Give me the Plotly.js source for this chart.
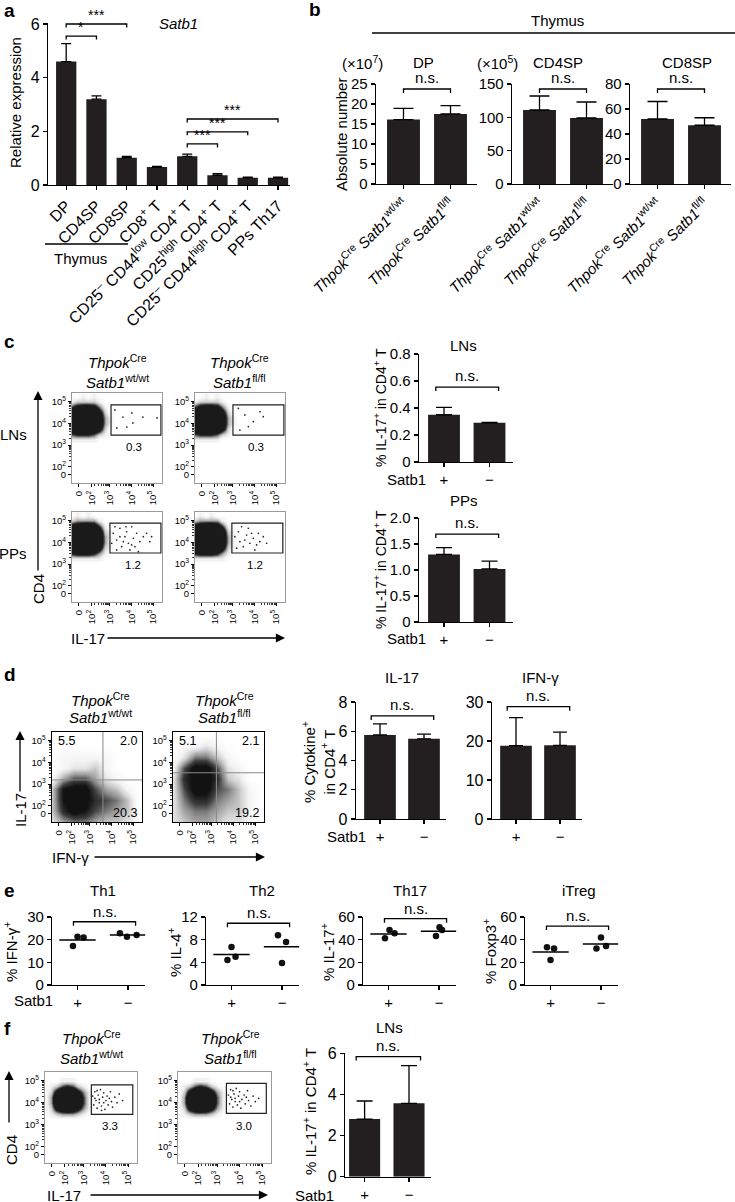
<!DOCTYPE html>
<html><head><meta charset="utf-8">
<script src="https://cdn.plot.ly/plotly-3.0.1.min.js"></script>
<style>html,body{margin:0;padding:0;background:#fff}</style>
</head><body><div id="chart" style="width:735px;height:1202px"></div>
<script>
// ================= DATA =================
// panel a
const aLabels = ['DP','CD4SP','CD8SP','CD8<sup>+</sup> T','CD25<sup>–</sup> CD44<sup>low</sup> CD4<sup>+</sup> T','CD25<sup>high</sup> CD4<sup>+</sup> T','CD25<sup>–</sup> CD44<sup>high</sup> CD4<sup>+</sup> T','PPs Th17'];
const aMeans = [4.6, 3.2, 1.02, 0.67, 1.07, 0.36, 0.27, 0.27];
const aSEM = [0.67, 0.12, 0.05, 0.02, 0.08, 0.06, 0.02, 0.02];
const aSigPairs = [[0,2],[0,1],[4,7],[4,6],[4,5]];
const aSigLevels = [6.0, 5.55, 2.46, 1.98, 1.53];
const aSigLabels = ['***','*','***','***','***'];
const aTicks = [0,2,4,6];
// panel b
const bGenotypes = ['<i>Thpok</i><sup>Cre</sup> <i>Satb1</i><sup>wt/wt</sup>','<i>Thpok</i><sup>Cre</sup> <i>Satb1</i><sup>fl/fl</sup>'];
const bDP = [16.1, 17.5], bDPerr = [2.8, 2.1];
const bCD4SP = [111, 99], bCD4SPerr = [21, 24];
const bCD8SP = [52, 47], bCD8SPerr = [14, 6];
const bTicksDP = [0,5,10,15,20,25], bTicksCD4 = [0,50,100,150], bTicksCD8 = [0,20,40,60,80];
const bBracketLevels = [23.75, 142.5, 76];
// panel c
const satb1Groups = ['+','−'];
const cLN = [0.35, 0.29], cLNerr = [0.055, 0.004];
const cPP = [1.30, 1.02], cPPerr = [0.13, 0.15];
const cLNticks = [0,0.2,0.4,0.6,0.8], cLNtickText = ['0','0.2','0.4','0.6','0.8'];
const cPPticks = [0,0.5,1.0,1.5,2.0], cPPtickText = ['0','0.5','1.0','1.5','2.0'];
const cBracketLevels = [0.555, 1.69];
// flow axes (display units of biexponential scale)
const flowTickValsY = [1.62, 2, 3, 4, 5];
const flowTickValsX = [1.55, 2.15, 3, 4, 5];
const flowTickText = ['0','10<sup>2</sup>','10<sup>3</sup>','10<sup>4</sup>','10<sup>5</sup>'];
// panel c flow densities
const cGridX = [1.25,1.5,1.75,2.0,2.25,2.5,2.75,3.0,3.25];
const cGridY = [3.25,3.5,3.75,4.0,4.25,4.5,4.75,5.0,5.25];
const cLNdensity = [
 [1,1,1,1,1,0,0,0,0],
 [4,5,5,5,4,2,1,0,0],
 [9,9,9,9,9,7,2,0,0],
 [9,9,9,9,9,8,3,1,0],
 [9,9,9,9,9,8,3,1,0],
 [9,9,9,9,9,7,2,0,0],
 [5,7,8,8,7,4,1,0,0],
 [1,2,2,2,2,1,0,0,0],
 [0,0,1,0,1,0,0,0,0]];
const cPPdensity = [
 [1,1,1,1,1,1,0,0,0],
 [5,6,6,6,5,3,1,0,0],
 [9,9,9,9,9,7,2,1,0],
 [9,9,9,9,9,8,3,1,0],
 [9,9,9,9,9,8,3,1,0],
 [9,9,9,9,9,8,2,1,0],
 [7,8,9,9,8,5,1,0,0],
 [2,3,3,3,3,1,0,0,0],
 [0,1,0,1,0,0,0,0,0]];
const cLNgates = [[3.05,5.35,3.46,4.85],[3.0,5.35,3.46,4.85]];
const cPPgates = [[3.0,5.35,3.51,4.89],[2.95,5.3,3.51,4.89]];
const cLNpct = ['0.3','0.3'], cPPpct = ['1.2','1.2'];
const cLN1dots = [[3.23,4.62],[3.6,4.29],[4.01,4.48],[4.06,4.02],[4.52,4.29],[5.17,4.25],[3.32,3.79],[3.78,3.83]];
const cLN2dots = [[3.25,4.69],[3.55,4.39],[3.94,4.08],[4.4,4.31],[3.71,3.85],[3.32,3.69],[4.25,4.54]];
const cPP1dots = [[3.15,4.42],[3.31,4.11],[3.46,4.65],[3.54,3.8],[3.69,4.26],[3.77,4.49],[3.85,3.96],[3.92,3.65],[4.0,4.72],[4.08,4.19],[4.15,3.8],[4.23,4.42],[3.31,3.65],[3.23,4.72],[3.62,4.03],[4.38,4.03],[4.54,4.26],[4.69,4.42],[4.84,4.03],[4.31,3.57],[3.46,4.26],[3.08,3.96],[4.0,3.88],[3.74,4.72],[4.92,4.26]];
const cPP2dots = [[3.09,4.26],[3.25,4.49],[3.32,4.03],[3.48,3.8],[3.63,4.34],[3.71,4.65],[3.78,3.96],[3.94,4.19],[4.01,3.65],[4.17,4.42],[4.24,4.03],[4.4,4.26],[3.17,3.73],[3.55,4.11],[3.86,4.42],[4.55,3.96],[3.4,4.72],[4.09,3.88]];
// panel d
const dIL17 = [5.75, 5.48], dIL17err = [0.75, 0.32];
const dIFN = [18.8, 18.9], dIFNerr = [7.2, 3.4];
const dTicksIL17 = [0,2,4,6,8], dTicksIFN = [0,10,20,30];
const dBracketLevels = [7.05, 28.8];
const dGridX = [1.25,1.75,2.25,2.75,3.25,3.75,4.25,4.75,5.25];
const dGridY = [1.25,1.75,2.25,2.75,3.25,3.75,4.25,4.75,5.25];
const dWTdensity = [
 [2,4,5,5,4,3,3,2,0],
 [3,7,9,8,6,5,4,3,0],
 [3,8,9,9,7,6,5,3,0],
 [3,8,9,9,6,4,3,1,0],
 [1,4,6,6,4,2,1,0,0],
 [0,1,2,2,3,1,0,0,0],
 [0,1,1,1,1,1,0,0,0],
 [0,0,0,0,0,0,0,0,0],
 [0,0,0,0,0,0,0,0,0]];
const dFLdensity = [
 [2,3,4,4,3,2,2,1,0],
 [2,4,5,5,4,3,3,1,0],
 [2,5,7,7,5,4,3,1,0],
 [2,6,9,9,6,5,3,1,0],
 [2,7,9,9,7,3,2,0,0],
 [1,6,9,9,6,2,1,0,0],
 [0,2,5,5,3,1,0,0,0],
 [0,1,1,2,1,0,0,0,0],
 [0,0,0,0,0,0,0,0,0]];
const dQuadX = [3.6, 3.23], dQuadY = [3.19, 3.52];
const dQuadPct = [['5.5','2.0','20.3'],['5.1','2.1','19.2']];
// panel e
const eTitles = ['Th1','Th2','Th17','iTreg'];
const eYLabels = ['% IFN-γ<sup>+</sup>','% IL-4<sup>+</sup>','% IL-17<sup>+</sup>','% Foxp3<sup>+</sup>'];
const eTicks = [[0,10,20,30],[0,4,8,12],[0,20,40,60],[0,20,40,60]];
const ePlus = [[21.3,21.0,17.2],[6.7,4.4,5.0],[48.5,45.6,41.2],[33.2,32.3,22.0]];
const eMinus = [[22.8,21.3,22.1],[8.8,7.6,3.9],[50.9,43.2,48.5],[42.0,32.3,34.4]];
const eBracketLevels = [27.9, 10.9, 58.5, 52];
// panel f
const fLN = [2.8, 3.57], fLNerr = [0.88, 1.83];
const fTicks = [0,2,4,6];
const fBracketLevel = 5.84;
const fGridX = [1.25,1.5,1.75,2.0,2.25,2.5,2.75,3.0,3.25,3.5];
const fGridY = [3.25,3.5,3.75,4.0,4.25,4.5,4.75,5.0];
const fDensity = [
 [0,0,0,0,0,0,0,0,0,0],
 [0,1,2,3,3,3,2,1,0,0],
 [0,2,6,8,9,8,6,3,1,0],
 [0,3,8,9,9,9,8,4,1,0],
 [0,3,8,9,9,9,8,4,1,0],
 [0,2,6,9,9,9,6,3,1,0],
 [0,1,2,4,5,4,2,1,0,0],
 [0,0,0,1,1,1,0,0,0,0]];
const fGates = [[3.34,5.21,3.47,4.81],[3.41,5.19,3.51,4.88]];
const fPct = ['3.3','3.0'];
const f1dots = [[3.4,4.3],[3.45,3.9],[3.5,4.5],[3.55,4.1],[3.6,3.75],[3.65,4.35],[3.7,4.0],[3.75,4.6],[3.8,3.85],[3.85,4.25],[3.9,4.45],[3.95,3.7],[4.0,4.1],[4.05,4.3],[4.1,3.9],[4.2,4.5],[4.25,4.05],[4.3,3.8],[4.4,4.25],[4.5,4.0],[4.6,4.4],[3.5,4.2],[3.7,4.15],[3.9,4.0],[4.15,4.2],[3.6,4.55],[3.8,3.65],[4.75,4.1]];
const f2dots = [[3.5,4.35],[3.55,3.95],[3.6,4.6],[3.65,4.15],[3.7,3.8],[3.75,4.4],[3.8,4.05],[3.85,4.65],[3.9,3.9],[3.95,4.3],[4.0,4.5],[4.05,3.75],[4.1,4.15],[4.2,4.35],[4.25,3.95],[4.35,4.55],[4.4,4.1],[4.5,3.85],[4.6,4.3],[4.7,4.05],[3.6,4.25],[3.8,4.2],[4.0,4.05],[4.3,4.25],[3.7,4.55],[4.85,4.2]];

// ================= LAYOUT HELPERS =================
const W = 735, H = 1202;
const FONT = 'Liberation Sans, Arial, Helvetica, sans-serif';
const NARROW = 'Liberation Sans Narrow, Liberation Sans, Arial, sans-serif';
const BAR = '#231f20';
const traces = [];
const layout = {width:W, height:H, margin:{l:0,r:0,t:0,b:0}, paper_bgcolor:'#fff', plot_bgcolor:'rgba(0,0,0,0)',
  showlegend:false, font:{family:FONT, size:14, color:'#000'}, annotations:[], shapes:[]};
let nAx = 0;
function newAxes(xcfg, ycfg){
  nAx++; const s = nAx===1 ? '' : String(nAx);
  const xa='x'+s, ya='y'+s;
  layout['xaxis'+s] = Object.assign({anchor:ya, showgrid:false, zeroline:false, fixedrange:true}, xcfg);
  layout['yaxis'+s] = Object.assign({anchor:xa, showgrid:false, zeroline:false, fixedrange:true}, ycfg);
  return {xa, ya};
}
function xDom(pA,vA,pB,vB,r){const k=(pB-pA)/(vB-vA);return [(pA+(r[0]-vA)*k)/W,(pA+(r[1]-vA)*k)/W];}
function yDom(pA,vA,pB,vB,r){const k=(pB-pA)/(vB-vA);return [1-(pA+(r[0]-vA)*k)/H,1-(pA+(r[1]-vA)*k)/H];}
const axLine = {showline:true, linecolor:'#000', linewidth:1.3, ticks:'outside', ticklen:4, tickwidth:1.3, tickcolor:'#000', tickmode:'array'};
function ann(px,py,text,o){layout.annotations.push(Object.assign({xref:'paper',yref:'paper',x:px/W,y:1-py/H,text,showarrow:false,xanchor:'center',yanchor:'middle',font:{family:FONT,size:14,color:'#000'}},o||{}));}
function pline(px0,py0,px1,py1,w){layout.shapes.push({type:'line',xref:'paper',yref:'paper',x0:px0/W,y0:1-py0/H,x1:px1/W,y1:1-py1/H,line:{color:'#000',width:w||1.3}});}
function arrow(hx,hy,tx,ty){layout.annotations.push({xref:'paper',yref:'paper',x:hx/W,y:1-hy/H,ax:tx-hx,ay:ty-hy,text:'',showarrow:true,arrowhead:2,arrowsize:1.4,arrowwidth:1.3,arrowcolor:'#000',standoff:0});}
function fnt(size,fam){return {family:fam||FONT,size,color:'#000'};}

function barPanel(c){
  const n = c.values.length, idx=[...Array(n).keys()];
  const ax = newAxes(
    Object.assign({domain:xDom(c.c0,0,c.c1,n-1,c.xRange), range:c.xRange, tickvals:idx, ticktext:c.labels, tickangle:c.angle||0, tickfont:c.xfont}, axLine),
    Object.assign({domain:yDom(c.y0,0,c.yT,c.yTopVal,c.yRange), range:c.yRange, tickvals:c.yTicks, ticktext:c.yText||c.yTicks.map(String), tickfont:c.yfont}, axLine));
  traces.push({type:'bar', x:idx, y:c.values, width:c.barW, xaxis:ax.xa, yaxis:ax.ya, hoverinfo:'skip',
    marker:{color:BAR, line:{width:0}},
    error_y:{type:'data', symmetric:false, array:c.errors, arrayminus:c.errors.map(()=>0), color:'#000', thickness:1.3, width:c.capW}});
  ax.kY = (c.y0-c.yT)/c.yTopVal;
  return ax;
}
function bracket(ax,x0,x1,y,drop,label,font,shift){
  const d = drop/ax.kY;
  layout.shapes.push({type:'path', xref:ax.xa, yref:ax.ya, path:`M${x0},${y-d} L${x0},${y} L${x1},${y} L${x1},${y-d}`, line:{color:'#000',width:1.3}});
  layout.annotations.push({xref:ax.xa, yref:ax.ya, x:(x0+x1)/2, y:y, text:label, showarrow:false, xanchor:'center', yanchor:'bottom', yshift:shift||0, font});
}
const FLOW_RANGE = [1.25, 5.4];
const minorVals = []; [2,3,4].forEach(d=>{for(let m=2;m<10;m++) minorVals.push(d+Math.log10(m));});
function flowAxis(color,width,letter){
  return {showline:true, mirror:true, linecolor:color, linewidth:width, ticks:'outside', ticklen:3, tickwidth:1, tickcolor:'#000',
    tickmode:'array', tickvals: letter==='x'?flowTickValsX:flowTickValsY, ticktext:flowTickText, tickfont:fnt(9.5), tickangle: letter==='x'?-90:0,
    minor:{tickmode:'array', tickvals:minorVals, ticks:'outside', ticklen:2, tickwidth:0.8, tickcolor:'#000'}};
}
const csFlow = [[0,'#ffffff'],[0.12,'#f0f0f0'],[0.3,'#b5b5b5'],[0.45,'#505050'],[0.56,'#1a1a1a'],[1,'#1a1a1a']];
const csD = [[0,'#ffffff'],[0.15,'#f3f3f3'],[0.3,'#d2d2d2'],[0.5,'#909090'],[0.7,'#3c3c3c'],[0.9,'#121212'],[1,'#121212']];
function flowPanel(box,o){
  const ax = newAxes(Object.assign({domain:[box[0]/W,box[1]/W], range:FLOW_RANGE}, flowAxis(o.frame,o.fw,'x')),
                     Object.assign({domain:[1-box[3]/H,1-box[2]/H], range:FLOW_RANGE}, flowAxis(o.frame,o.fw,'y')));
  traces.push({type:'heatmap', x:o.gx, y:o.gy, z:o.z, zmin:0, zmax:9, colorscale:o.cs, zsmooth:'best', showscale:false, xaxis:ax.xa, yaxis:ax.ya, hoverinfo:'skip'});
  if(o.dots) traces.push({type:'scatter', mode:'markers', x:o.dots.map(d=>d[0]), y:o.dots.map(d=>d[1]), marker:{size:1.7, color:'#222'}, xaxis:ax.xa, yaxis:ax.ya, hoverinfo:'skip'});
  if(o.gate){
    const g=o.gate;
    layout.shapes.push({type:'rect', xref:ax.xa, yref:ax.ya, x0:g[0], x1:g[1], y0:g[2], y1:g[3], line:{color:'#222',width:1.2}});
    layout.annotations.push({xref:ax.xa, yref:ax.ya, x:(g[0]+g[1])/2-0.1, y:g[2]-0.55, text:o.pct, showarrow:false, font:fnt(11.5)});
  }
  return ax;
}
function header(cx,y1,y2,geno){
  ann(cx,y1,'<i>Thpok</i><sup>Cre</sup>',{font:fnt(15)});
  ann(cx,y2,'<i>Satb1</i><sup>'+geno+'</sup>',{font:fnt(15)});
}

// ================= PANEL a =================
ann(2,11,'<b>a</b>',{xanchor:'left',font:fnt(19)});
const axA = barPanel({values:aMeans, errors:aSEM, labels:aLabels, angle:-45, c0:66.2, c1:278, xRange:[-0.6,7.4],
  y0:185, yT:24, yTopVal:6, yRange:[0,6.05], yTicks:aTicks, barW:0.67, capW:5, xfont:fnt(16), yfont:fnt(16)});
aSigPairs.forEach((p,i)=>bracket(axA,p[0],p[1],aSigLevels[i],3.5,aSigLabels[i],fnt(14),-1));
ann(178,24,'<i>Satb1</i>',{font:fnt(15)});
ann(15,103,'Relative expression',{textangle:-90,font:fnt(15)});
pline(45,244,128,244,1.3);
ann(80,258,'Thymus',{font:fnt(15)});

// ================= PANEL b =================
ann(307,10,'<b>b</b>',{xanchor:'left',font:fnt(19)});
ann(557,21,'Thymus',{font:fnt(15)});
pline(372,33,735,33,1.3);
const bSets = [[bDP,bDPerr,bTicksDP,376],[bCD4SP,bCD4SPerr,bTicksCD4,512],[bCD8SP,bCD8SPerr,bTicksCD8,630]];
bSets.forEach((s,i)=>{
  const top = s[2][s[2].length-1];
  const ax = barPanel({values:s[0], errors:s[1], labels:bGenotypes, angle:-45, c0:s[3]+27.5, c1:s[3]+74.5, xRange:[-0.585,1.56],
    y0:184, yT:84, yTopVal:top, yRange:[0,top], yTicks:s[2], barW:0.7, capW:10, xfont:fnt(15), yfont:fnt(15)});
  bracket(ax,0,1,bBracketLevels[i],4,'n.s.',fnt(15),1);
});
ann(362,63,'(×10<sup>7</sup>)',{font:fnt(15)});
ann(423,63,'DP',{font:fnt(15)});
ann(497,63,'(×10<sup>5</sup>)',{font:fnt(15)});
ann(558,63,'CD4SP',{font:fnt(15)});
ann(687,63,'CD8SP',{font:fnt(15)});
ann(341,135,'Absolute number',{textangle:-90,font:fnt(15)});

// ================= PANEL c =================
ann(2,342,'<b>c</b>',{xanchor:'left',font:fnt(19)});
header(117,362,382,'wt/wt'); header(240,362,382,'fl/fl');
const grayFrame = {frame:'#9a9a9a', fw:1.1, cs:csFlow};
flowPanel([72,162,393,483], Object.assign({gx:cGridX, gy:cGridY, z:cLNdensity, gate:cLNgates[0], pct:cLNpct[0], dots:cLN1dots}, grayFrame));
flowPanel([195,285,393,483], Object.assign({gx:cGridX, gy:cGridY, z:cLNdensity, gate:cLNgates[1], pct:cLNpct[1], dots:cLN2dots}, grayFrame));
flowPanel([72,162,512,602], Object.assign({gx:cGridX, gy:cGridY, z:cPPdensity, gate:cPPgates[0], pct:cPPpct[0], dots:cPP1dots}, grayFrame));
flowPanel([195,285,512,602], Object.assign({gx:cGridX, gy:cGridY, z:cPPdensity, gate:cPPgates[1], pct:cPPpct[1], dots:cPP2dots}, grayFrame));
ann(13,434,'LNs',{font:fnt(15)});
ann(13,553,'PPs',{font:fnt(15)});
arrow(38,391,38,572);
ann(38,589,'CD4',{textangle:-90,font:fnt(15)});
ann(88,638,'IL-17',{font:fnt(15)});
arrow(285,638,106,638);
const axCLN = barPanel({values:cLN, errors:cLNerr, labels:satb1Groups, c0:444, c1:489.5, xRange:[-0.55,1.52],
  y0:462, yT:354, yTopVal:0.8, yRange:[0,0.8], yTicks:cLNticks, yText:cLNtickText, barW:0.7, capW:8, xfont:fnt(15), yfont:fnt(15)});
bracket(axCLN,-0.18,1.2,cBracketLevels[0],4,'n.s.',fnt(15),1);
const axCPP = barPanel({values:cPP, errors:cPPerr, labels:satb1Groups, c0:444, c1:489.5, xRange:[-0.55,1.52],
  y0:622, yT:518, yTopVal:2.0, yRange:[0,2.0], yTicks:cPPticks, yText:cPPtickText, barW:0.7, capW:8, xfont:fnt(15), yfont:fnt(15)});
bracket(axCPP,-0.18,1.2,cBracketLevels[1],4,'n.s.',fnt(15),1);
ann(464,346,'LNs',{font:fnt(15)});
ann(464,500,'PPs',{font:fnt(15)});
ann(380,408,'% IL-17<sup>+</sup> in CD4<sup>+</sup> T',{textangle:-90,font:fnt(14)});
ann(380,570,'% IL-17<sup>+</sup> in CD4<sup>+</sup> T',{textangle:-90,font:fnt(14)});
ann(406,479,'Satb1',{font:fnt(15)});
ann(406,638,'Satb1',{font:fnt(15)});

// ================= PANEL d =================
ann(2,675,'<b>d</b>',{xanchor:'left',font:fnt(19)});
header(100,699,716,'wt/wt'); header(224,699,716,'fl/fl');
const dBoxes = [[52,142,732,822],[173,264,732,822]];
const dDens = [dWTdensity, dFLdensity];
dBoxes.forEach((b,i)=>{
  const ax = flowPanel(b,{frame:'#000', fw:1.3, cs:csD, gx:dGridX, gy:dGridY, z:dDens[i]});
  layout.shapes.push({type:'line', xref:ax.xa, yref:ax.ya, x0:dQuadX[i], x1:dQuadX[i], y0:FLOW_RANGE[0], y1:FLOW_RANGE[1], line:{color:'#8a8a8a',width:1}});
  layout.shapes.push({type:'line', xref:ax.xa, yref:ax.ya, x0:FLOW_RANGE[0], x1:FLOW_RANGE[1], y0:dQuadY[i], y1:dQuadY[i], line:{color:'#8a8a8a',width:1}});
  const q = dQuadPct[i];
  layout.annotations.push({xref:ax.xa, yref:ax.ya, x:1.45, y:4.98, text:q[0], showarrow:false, xanchor:'left', font:fnt(12.5)});
  layout.annotations.push({xref:ax.xa, yref:ax.ya, x:5.25, y:4.98, text:q[1], showarrow:false, xanchor:'right', font:fnt(12.5)});
  layout.annotations.push({xref:ax.xa, yref:ax.ya, x:5.25, y:1.68, text:q[2], showarrow:false, xanchor:'right', font:fnt(12.5)});
});
arrow(20,731,20,793);
ann(20,810,'IL-17',{textangle:-90,font:fnt(15)});
ann(70,857,'IFN-γ',{font:fnt(15)});
arrow(265,857,93,857);
const axDIL = barPanel({values:dIL17, errors:dIL17err, labels:satb1Groups, c0:380, c1:424, xRange:[-0.545,1.5],
  y0:819, yT:702, yTopVal:8, yRange:[0,8], yTicks:dTicksIL17, barW:0.72, capW:7, xfont:fnt(15), yfont:fnt(16)});
bracket(axDIL,-0.2,1.22,dBracketLevels[0],4,'n.s.',fnt(15),1);
const axDIF = barPanel({values:dIFN, errors:dIFNerr, labels:satb1Groups, c0:516, c1:560, xRange:[-0.545,1.5],
  y0:819, yT:702, yTopVal:30, yRange:[0,30], yTicks:dTicksIFN, barW:0.72, capW:7, xfont:fnt(15), yfont:fnt(16)});
bracket(axDIF,-0.2,1.22,dBracketLevels[1],4,'n.s.',fnt(15),1);
ann(402,677,'IL-17',{font:fnt(15)});
ann(540,677,'IFN-γ',{font:fnt(15)});
ann(318,762,'% Cytokine<sup>+</sup><br>in CD4<sup>+</sup> T',{textangle:-90,font:fnt(15)});
ann(346,836,'Satb1',{font:fnt(15)});

// ================= PANEL e =================
ann(2,890,'<b>e</b>',{xanchor:'left',font:fnt(19)});
const eAxisLeft = [52,206,363,525], eTitleX = [103,262,410,579], eLabelX = [10,174,327,489];
const ePlusOff = [[0,0.12,-0.09],[0,-0.08,0.08],[0.02,0.12,-0.07],[-0.07,0.07,0]];
const eMinusOff = [[-0.16,-0.02,0.17],[-0.08,0.08,0],[0.01,-0.06,0.06],[0,-0.09,0.1]];
eTitles.forEach((t,i)=>{
  const A = eAxisLeft[i], top = eTicks[i][eTicks[i].length-1], xr=[-0.5,1.34];
  const ax = newAxes(
    Object.assign({domain:xDom(A+25.5,0,A+76,1,xr), range:xr, tickvals:[0,1], ticktext:satb1Groups, tickfont:fnt(15,NARROW)}, axLine),
    Object.assign({domain:yDom(985,0,917,top,[0,top]), range:[0,top], tickvals:eTicks[i], ticktext:eTicks[i].map(String), tickfont:fnt(15,NARROW)}, axLine));
  ax.kY = 68/top;
  const groups=[ePlus[i],eMinus[i]], offs=[ePlusOff[i],eMinusOff[i]];
  groups.forEach((g,j)=>{
    traces.push({type:'scatter', mode:'markers', x:g.map((v,k)=>j+offs[j][k]), y:g, xaxis:ax.xa, yaxis:ax.ya,
      marker:{size:6.5, color:'#111'}, hoverinfo:'skip', cliponaxis:false});
    const m = g.reduce((s,v)=>s+v,0)/g.length;
    traces.push({type:'scatter', mode:'lines', x:[j-0.36,j+0.36], y:[m,m], xaxis:ax.xa, yaxis:ax.ya, line:{color:'#000',width:1.5}, hoverinfo:'skip'});
  });
  bracket(ax,-0.08,1.15,eBracketLevels[i],4,'n.s.',fnt(15,NARROW),0);
  ann(eTitleX[i],890,t,{font:fnt(15,NARROW)});
  ann(eLabelX[i],952,eYLabels[i],{textangle:-90,font:fnt(15,NARROW)});
});
ann(33,1000,'Satb1',{font:fnt(15,NARROW)});

// ================= PANEL f =================
ann(2,1028,'<b>f</b>',{xanchor:'left',font:fnt(19)});
header(91,1037,1057,'wt/wt'); header(230,1037,1057,'fl/fl');
flowPanel([45,137,1072,1163], Object.assign({gx:fGridX, gy:fGridY, z:fDensity, gate:fGates[0], pct:fPct[0], dots:f1dots}, grayFrame));
flowPanel([178,271,1072,1163], Object.assign({gx:fGridX, gy:fGridY, z:fDensity, gate:fGates[1], pct:fPct[1], dots:f2dots}, grayFrame));
arrow(9,1071,9,1124);
ann(11,1150,'CD4',{textangle:-90,font:fnt(15,NARROW)});
ann(64,1195,'IL-17',{font:fnt(15,NARROW)});
arrow(268,1195,89,1195);
const axF = barPanel({values:fLN, errors:fLNerr, labels:satb1Groups, c0:364.6, c1:409, xRange:[-0.44,1.5],
  y0:1176.7, yT:1053.3, yTopVal:6, yRange:[0,6], yTicks:fTicks, barW:0.7, capW:8, xfont:fnt(15,NARROW), yfont:fnt(16,NARROW)});
bracket(axF,-0.19,1.26,fBracketLevel,4,'n.s.',fnt(15,NARROW),1);
ann(389,1027,'LNs',{font:fnt(15,NARROW)});
ann(309,1112,'% IL-17<sup>+</sup> in CD4<sup>+</sup> T',{textangle:-90,font:fnt(15,NARROW)});
ann(314,1195,'Satb1',{font:fnt(15,NARROW)});

Plotly.newPlot('chart', traces, layout, {displayModeBar:false, staticPlot:true});
</script></body></html>
